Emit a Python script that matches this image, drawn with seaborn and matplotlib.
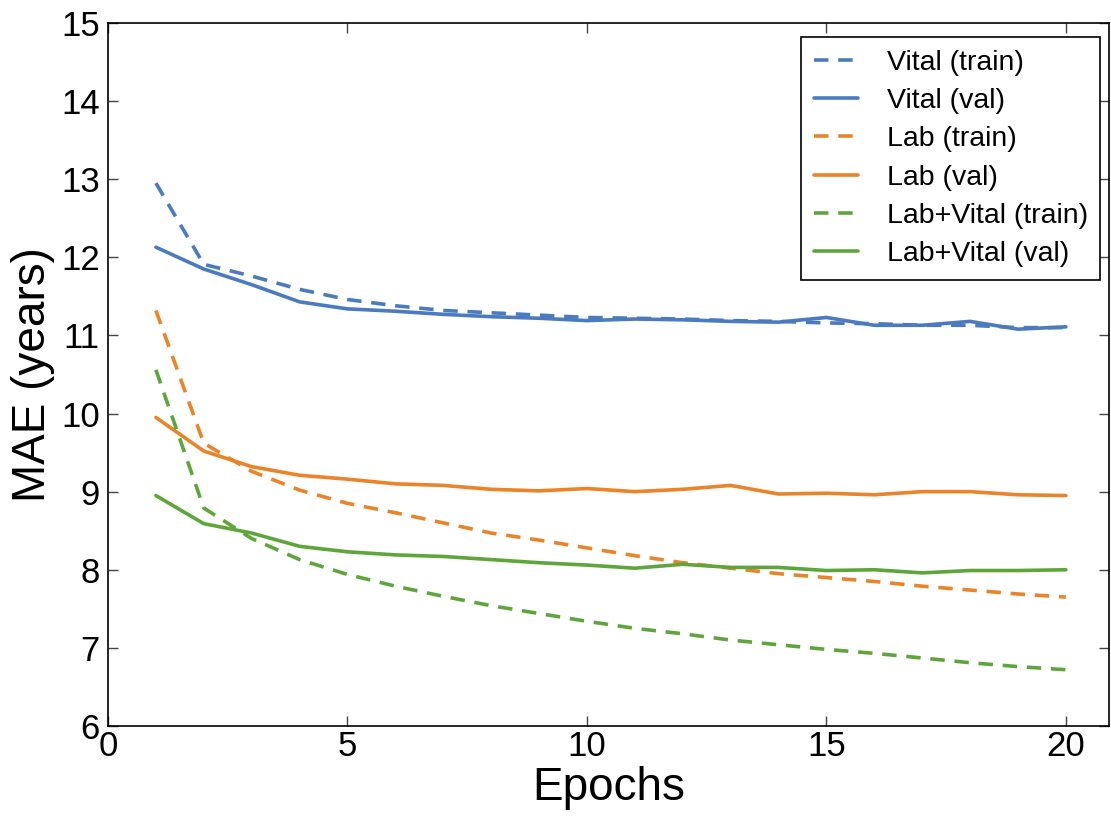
import matplotlib
matplotlib.use('Agg')
import matplotlib.pyplot as plt
import seaborn as sns

# 数据：每个 epoch 的 MAE（years）
epochs = list(range(1, 21))
vital_train = [12.95, 11.91, 11.76, 11.59, 11.46, 11.38, 11.32, 11.29, 11.26, 11.23,
               11.22, 11.21, 11.19, 11.18, 11.16, 11.15, 11.13, 11.13, 11.10, 11.10]
vital_val = [12.13, 11.85, 11.65, 11.43, 11.34, 11.31, 11.27, 11.24, 11.22, 11.19,
             11.21, 11.20, 11.18, 11.17, 11.23, 11.13, 11.13, 11.18, 11.08, 11.11]
lab_train = [11.32, 9.62, 9.26, 9.02, 8.85, 8.73, 8.60, 8.47, 8.38, 8.28,
             8.18, 8.09, 8.02, 7.95, 7.90, 7.85, 7.79, 7.74, 7.69, 7.65]
lab_val = [9.95, 9.52, 9.32, 9.21, 9.16, 9.10, 9.08, 9.03, 9.01, 9.04,
           9.00, 9.03, 9.08, 8.97, 8.98, 8.96, 9.00, 9.00, 8.96, 8.95]
lv_train = [10.56, 8.79, 8.40, 8.13, 7.94, 7.79, 7.66, 7.54, 7.44, 7.34,
            7.25, 7.18, 7.10, 7.04, 6.98, 6.93, 6.87, 6.81, 6.76, 6.72]
lv_val = [8.95, 8.59, 8.47, 8.30, 8.23, 8.19, 8.17, 8.13, 8.09, 8.06,
          8.02, 8.07, 8.03, 8.03, 7.99, 8.00, 7.96, 7.99, 7.99, 8.00]

labels = ['Vital (train)', 'Vital (val)', 'Lab (train)', 'Lab (val)',
          'Lab+Vital (train)', 'Lab+Vital (val)']
colors = ['#4a7bbf', '#4a7bbf', '#ea8429', '#ea8429', '#5ea63b', '#5ea63b']
series = [vital_train, vital_val, lab_train, lab_val, lv_train, lv_val]

sns.set_style('ticks')
plt.rcParams['font.family'] = ['Liberation Sans', 'DejaVu Sans']
plt.rcParams['xtick.direction'] = 'in'
plt.rcParams['ytick.direction'] = 'in'
plt.rcParams['text.color'] = 'black'
plt.rcParams['axes.labelcolor'] = 'black'

fig = plt.figure(figsize=(11.11, 8.19), dpi=100)
ax = fig.add_axes([0.0972, 0.1136, 0.9010, 0.8583])

for y, lab, c in zip(series, labels, colors):
    dashed = 'train' in lab
    sns.lineplot(x=epochs, y=y, ax=ax, color=c, label=lab, linewidth=2.6,
                 linestyle='--' if dashed else '-')
    if dashed:
        ax.lines[-1].set_dashes((4, 2.7))

ax.set_xlim(0, 20.9)
ax.set_ylim(6, 15)
ax.set_xticks([0, 5, 10, 15, 20])
ax.set_yticks(range(6, 16))
ax.tick_params(axis='both', labelsize=25, length=7, width=1, color='#444444',
               labelcolor='black', top=True, right=True, pad=3)
ax.tick_params(axis='y', pad=6)
for s in ax.spines.values():
    s.set_linewidth(1.2)
    s.set_color('black')

ax.set_xlabel('Epochs', fontsize=33, labelpad=2)
ax.set_ylabel('MAE (years)', fontsize=33, labelpad=4)

leg = ax.legend(loc='upper right', fontsize=20.5, frameon=True, fancybox=False,
                edgecolor='black', framealpha=1, handlelength=1.55,
                handletextpad=1.0, labelspacing=0.43, borderpad=0.45,
                borderaxespad=0, bbox_to_anchor=(0.9915, 0.980))
leg.get_frame().set_linewidth(1.2)

plt.savefig('out.png', dpi=100)
